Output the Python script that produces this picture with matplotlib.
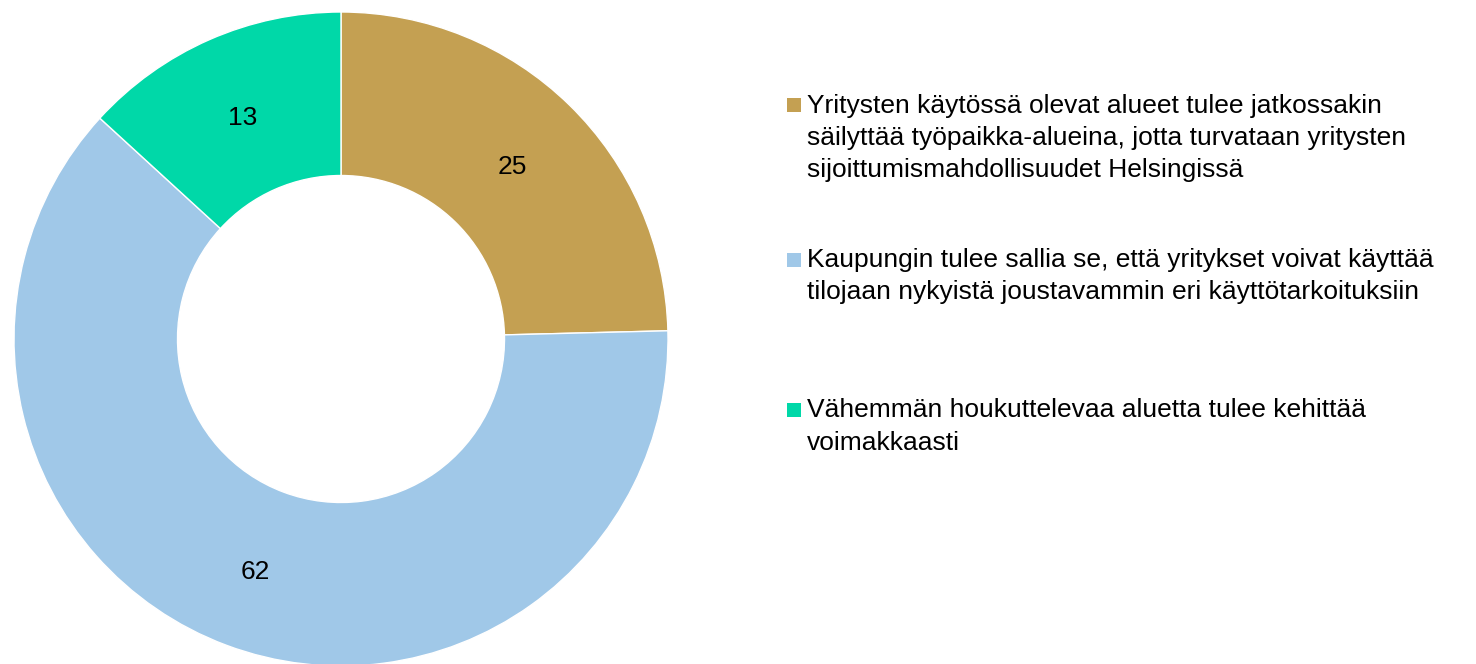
import matplotlib.pyplot as plt
from matplotlib.patches import Rectangle

plt.rcParams['font.family'] = ['Liberation Sans', 'DejaVu Sans']

# Data
categories = [
    "Yritysten käytössä olevat alueet tulee jatkossakin\nsäilyttää työpaikka-alueina, jotta turvataan yritysten\nsijoittumismahdollisuudet Helsingissä",
    "Kaupungin tulee sallia se, että yritykset voivat käyttää\ntilojaan nykyistä joustavammin eri käyttötarkoituksiin",
    "Vähemmän houkuttelevaa aluetta tulee kehittää\nvoimakkaasti",
]
values = [24.6, 62.2, 13.2]
colors = ['#C4A052', '#A0C8E8', '#00D8A8']

W, H = 1476, 664
fig = plt.figure(figsize=(W / 100, H / 100), dpi=100)

# pie axes: centre (341, 339) px, radius ~327 px
r = 327
cy = 339
ax = fig.add_axes([(341 - r) / W, (H - cy - r) / H, 2 * r / W, 2 * r / H])
wedges, texts, autotexts = ax.pie(
    values, colors=colors, startangle=90, counterclock=False,
    autopct=lambda p: f"{p:.0f}", pctdistance=0.75,
    wedgeprops=dict(width=0.5, edgecolor='white', linewidth=1),
    textprops=dict(fontsize=19, color='black'))
for t in autotexts:
    t.set_y(t.get_position()[1] - 0.01)
ax.set_xlim(-1, 1)
ax.set_ylim(-1, 1)
ax.set_aspect('equal')
ax.axis('off')

# legend drawn by hand so the marker sits on the first line
baselines = [112, 267, 417]   # baseline of first line, px from top
step = 32.5                   # line pitch in px
for lab, col, base in zip(categories, colors, baselines):
    last = base + lab.count('\n') * step
    fig.text(807 / W, 1 - last / H, lab, fontsize=19, va='baseline', ha='left',
             linespacing=1.43)
    fig.patches.append(Rectangle((787 / W, 1 - base / H), 14 / W, 14 / H,
                                 transform=fig.transFigure, facecolor=col,
                                 edgecolor='none'))

fig.savefig('out.png', dpi=100)
